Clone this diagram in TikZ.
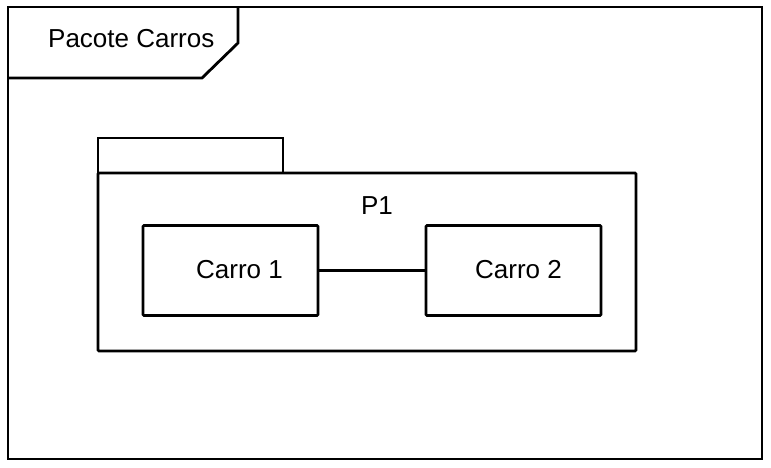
\documentclass[tikz,border=0pt]{standalone}
\usepackage{fontspec}
\setmainfont{Liberation Sans}
\tikzset{
  thick line/.style={line width=2.8pt, line join=miter},
  elembox/.style={draw, thick line, rounded corners=1pt, minimum width=175pt, minimum height=90pt, inner sep=0pt},
  txt/.style={font=\fontsize{26}{30}\selectfont, inner sep=0pt, anchor=center},
}
\begin{document}
\begin{tikzpicture}[x=1pt,y=-1pt]
\useasboundingbox (0,0) rectangle (771,467);
% outer frame
\draw[thick line] (8,7) rectangle (762,459);
\draw[thick line] (8,78) -- (202,78) -- (238,43) -- (238,7);
\node[txt, anchor=west] (title) at (48,39) {Pacote Carros};
% package P1
\draw[thick line] (98,173) -- (98,138) -- (283,138) -- (283,173);
\draw[thick line, rounded corners=1pt] (98,173) rectangle (636,351);
\node[txt] (p1) at (377,206) {P1};
% elements
\node[elembox] (c1) at (230.5,270.5) {};
\node[elembox] (c2) at (513.5,270.5) {};
\node[txt] (c1t) at (239.5,270) {Carro 1};
\node[txt] (c2t) at (518.5,270) {Carro 2};
\draw[thick line] (c1.east) -- (c2.west);
\end{tikzpicture}
\end{document}
